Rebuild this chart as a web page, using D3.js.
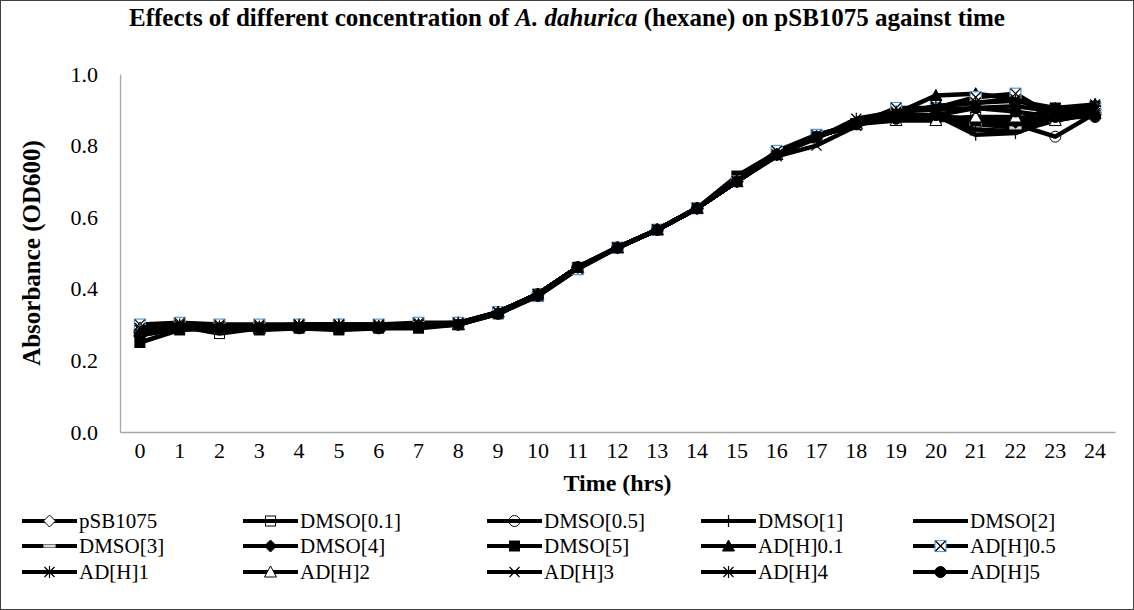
<!DOCTYPE html>
<html>
<head>
<meta charset="utf-8">
<script src="https://cdn.jsdelivr.net/npm/d3@7"></script>
<style>
  body { margin: 0; background: #fff; }
  text { font-family: "Liberation Serif", "Times New Roman", serif; fill: #000; }
</style>
</head>
<body>
<div id="chart"></div>
<script>
// chart data
const hours = d3.range(0, 25).map(String);
const seriesNames = [
  "pSB1075", "DMSO[0.1]", "DMSO[0.5]", "DMSO[1]", "DMSO[2]",
  "DMSO[3]", "DMSO[4]", "DMSO[5]", "AD[H]0.1", "AD[H]0.5",
  "AD[H]1", "AD[H]2", "AD[H]3", "AD[H]4", "AD[H]5"
];
const markerTypes = [
  "diamondOpen", "squareOpen", "circleOpen", "plus", "dash",
  "bar", "diamond", "square", "triangle", "squareX",
  "star6", "triangleOpen", "x", "star8", "circle"
];
const yTicks = [0, 0.2, 0.4, 0.6, 0.8, 1.0];

const pSB1075   = [0.28, 0.30, 0.29, 0.29, 0.295, 0.295, 0.295, 0.30, 0.30, 0.335, 0.385, 0.46, 0.515, 0.565, 0.625, 0.70, 0.775, 0.825, 0.86, 0.885, 0.88, 0.87, 0.86, 0.88, 0.89];
const dmso01    = [0.29, 0.295, 0.275, 0.29, 0.295, 0.29, 0.295, 0.30, 0.30, 0.335, 0.385, 0.46, 0.515, 0.565, 0.625, 0.70, 0.78, 0.83, 0.86, 0.89, 0.875, 0.88, 0.87, 0.875, 0.89];
const dmso05    = [0.28, 0.30, 0.29, 0.295, 0.295, 0.295, 0.295, 0.30, 0.305, 0.335, 0.385, 0.46, 0.515, 0.565, 0.625, 0.70, 0.775, 0.825, 0.86, 0.885, 0.88, 0.875, 0.86, 0.825, 0.89];
const dmso1     = [0.28, 0.295, 0.29, 0.29, 0.295, 0.295, 0.295, 0.30, 0.30, 0.335, 0.385, 0.46, 0.515, 0.565, 0.625, 0.70, 0.775, 0.825, 0.86, 0.885, 0.885, 0.83, 0.835, 0.875, 0.895];
const dmso2     = [0.28, 0.295, 0.29, 0.29, 0.295, 0.295, 0.295, 0.30, 0.30, 0.335, 0.385, 0.46, 0.515, 0.565, 0.625, 0.70, 0.775, 0.825, 0.86, 0.885, 0.88, 0.845, 0.84, 0.87, 0.89];
const dmso3     = [0.28, 0.295, 0.29, 0.29, 0.295, 0.295, 0.295, 0.30, 0.30, 0.335, 0.385, 0.46, 0.515, 0.565, 0.625, 0.70, 0.775, 0.825, 0.86, 0.885, 0.875, 0.86, 0.85, 0.875, 0.89];
const dmso4     = [0.27, 0.29, 0.29, 0.29, 0.29, 0.29, 0.29, 0.295, 0.30, 0.335, 0.385, 0.46, 0.515, 0.565, 0.625, 0.70, 0.775, 0.825, 0.86, 0.88, 0.885, 0.87, 0.865, 0.88, 0.885];
const dmso5     = [0.25, 0.285, 0.29, 0.285, 0.29, 0.285, 0.29, 0.29, 0.30, 0.33, 0.38, 0.455, 0.515, 0.565, 0.625, 0.715, 0.78, 0.825, 0.86, 0.88, 0.88, 0.87, 0.87, 0.905, 0.91];
const adh01     = [0.28, 0.295, 0.29, 0.29, 0.295, 0.295, 0.295, 0.30, 0.30, 0.335, 0.385, 0.46, 0.515, 0.565, 0.625, 0.70, 0.775, 0.825, 0.86, 0.89, 0.94, 0.945, 0.93, 0.89, 0.915];
const adh05     = [0.30, 0.305, 0.30, 0.30, 0.30, 0.30, 0.30, 0.305, 0.305, 0.335, 0.38, 0.455, 0.515, 0.565, 0.625, 0.70, 0.785, 0.83, 0.86, 0.905, 0.905, 0.935, 0.945, 0.88, 0.905];
const adh1      = [0.29, 0.30, 0.295, 0.295, 0.30, 0.30, 0.295, 0.30, 0.305, 0.335, 0.385, 0.46, 0.515, 0.565, 0.625, 0.70, 0.775, 0.825, 0.86, 0.89, 0.91, 0.92, 0.925, 0.905, 0.915];
const adh2      = [0.29, 0.295, 0.29, 0.29, 0.295, 0.295, 0.295, 0.30, 0.30, 0.335, 0.385, 0.46, 0.515, 0.565, 0.625, 0.70, 0.775, 0.825, 0.86, 0.87, 0.87, 0.88, 0.88, 0.87, 0.89];
const adh3      = [0.29, 0.30, 0.295, 0.295, 0.30, 0.30, 0.30, 0.30, 0.30, 0.335, 0.385, 0.46, 0.515, 0.565, 0.625, 0.70, 0.77, 0.80, 0.855, 0.89, 0.91, 0.92, 0.93, 0.89, 0.90];
const adh4      = [0.285, 0.295, 0.29, 0.29, 0.295, 0.295, 0.295, 0.30, 0.30, 0.335, 0.385, 0.46, 0.515, 0.565, 0.625, 0.70, 0.775, 0.82, 0.875, 0.895, 0.90, 0.905, 0.91, 0.895, 0.91];
const adh5      = [0.27, 0.29, 0.29, 0.29, 0.29, 0.29, 0.29, 0.295, 0.30, 0.33, 0.38, 0.46, 0.515, 0.565, 0.625, 0.70, 0.775, 0.825, 0.86, 0.875, 0.885, 0.905, 0.895, 0.88, 0.88];

const seriesValues = [pSB1075, dmso01, dmso05, dmso1, dmso2, dmso3, dmso4, dmso5,
  adh01, adh05, adh1, adh2, adh3, adh4, adh5];

const width = 1134,
  height = 610;
const plot = { left: 120, right: 1115, top: 74, bottom: 432 };

const svg = d3
  .select("#chart")
  .append("svg")
  .attr("width", width)
  .attr("height", height);

// chart frame
svg
  .append("rect")
  .attr("x", 0.5)
  .attr("y", 0.5)
  .attr("width", width - 1)
  .attr("height", height - 1)
  .style("fill", "white")
  .style("stroke", "#404040");

const x = d3
  .scaleBand()
  .domain(hours)
  .range([plot.left, plot.right]);

const y = d3
  .scaleLinear()
  .domain([0, 1])
  .range([plot.bottom, plot.top]);

// axes (no tick marks, grey axis lines)
const xAxis = svg
  .append("g")
  .attr("transform", `translate(0,${plot.bottom})`)
  .call(d3.axisBottom(x).tickSize(0).tickPadding(10));
xAxis.select(".domain").attr("stroke", "#a6a6a6").attr("stroke-width", 1.3);
xAxis.selectAll("text").style("font-size", "22px");

const yAxis = svg
  .append("g")
  .attr("transform", `translate(${plot.left},0)`)
  .call(
    d3.axisLeft(y).tickValues(yTicks).tickSize(0).tickPadding(22).tickFormat(d3.format(".1f"))
  );
yAxis.select(".domain").attr("stroke", "#a6a6a6").attr("stroke-width", 1.3);
yAxis.selectAll("text").style("font-size", "22px");

// titles
svg
  .append("text")
  .attr("x", width / 2)
  .attr("y", 26)
  .attr("text-anchor", "middle")
  .style("font-size", "25px")
  .style("font-weight", "bold")
  .call((t) => {
    t.append("tspan").text("Effects of different concentration of ");
    t.append("tspan").style("font-style", "italic").text("A. dahurica");
    t.append("tspan").text(" (hexane) on pSB1075 against time");
  });

svg
  .append("text")
  .attr("x", (plot.left + plot.right) / 2)
  .attr("y", 491)
  .attr("text-anchor", "middle")
  .style("font-size", "24px")
  .style("font-weight", "bold")
  .text("Time (hrs)");

svg
  .append("text")
  .attr("transform", `translate(40,${(plot.top + plot.bottom) / 2}) rotate(-90)`)
  .attr("text-anchor", "middle")
  .style("font-size", "25px")
  .style("font-weight", "bold")
  .text("Absorbance (OD600)");

// marker shapes
function drawMarker(g, type) {
  const s = 6;
  const line = (x1, y1, x2, y2) =>
    g.append("line").attr("x1", x1).attr("y1", y1).attr("x2", x2).attr("y2", y2)
      .style("stroke", "#000").style("stroke-width", 1.2);
  switch (type) {
    case "diamondOpen":
    case "diamond":
      g.append("path")
        .attr("d", `M0,${-s}L${s},0L0,${s}L${-s},0Z`)
        .style("fill", type === "diamond" ? "#000" : "#fff")
        .style("stroke", "#000");
      break;
    case "squareOpen":
    case "square":
      g.append("rect").attr("x", -5).attr("y", -5).attr("width", 10).attr("height", 10)
        .style("fill", type === "square" ? "#000" : "none")
        .style("stroke", "#000");
      break;
    case "circleOpen":
    case "circle":
      g.append("circle").attr("r", 5.5)
        .style("fill", type === "circle" ? "#000" : "none")
        .style("stroke", "#000");
      break;
    case "triangle":
    case "triangleOpen":
      g.append("path")
        .attr("d", `M0,${-s}L${s},${s - 1}L${-s},${s - 1}Z`)
        .style("fill", type === "triangle" ? "#000" : "#fff")
        .style("stroke", "#000");
      break;
    case "plus":
      line(0, -s, 0, s);
      line(-s, 0, s, 0);
      break;
    case "dash":
      g.append("rect").attr("x", -6).attr("y", -2).attr("width", 12).attr("height", 4)
        .style("fill", "#000");
      break;
    case "bar":
      g.append("rect").attr("x", -6).attr("y", -1.5).attr("width", 12).attr("height", 3)
        .style("fill", "#d9d9d9").style("stroke", "#808080").style("stroke-width", 0.6);
      break;
    case "squareX":
      g.append("rect").attr("x", -5.5).attr("y", -5.5).attr("width", 11).attr("height", 11)
        .style("fill", "#fff").style("stroke", "#5b9bd5").style("stroke-width", 1.2);
      line(-5, -5, 5, 5);
      line(-5, 5, 5, -5);
      break;
    case "x":
      line(-5, -5, 5, 5);
      line(-5, 5, 5, -5);
      break;
    case "star6":
      line(-5, -5, 5, 5);
      line(-5, 5, 5, -5);
      line(0, -s, 0, s);
      break;
    case "star8":
      line(-5, -5, 5, 5);
      line(-5, 5, 5, -5);
      line(0, -s, 0, s);
      line(-s, 0, s, 0);
      break;
  }
}

const lineGen = d3
  .line()
  .x((d, i) => x(hours[i]) + x.bandwidth() / 2)
  .y((d) => y(d));

const seriesGroup = svg.append("g").attr("class", "series");

seriesValues.forEach((values, k) => {
  const g = seriesGroup.append("g");
  g.append("path")
    .attr("d", lineGen(values))
    .style("fill", "none")
    .style("stroke", "#000")
    .style("stroke-width", 4.5)
    .style("stroke-linejoin", "round");
  g.selectAll("g.marker")
    .data(values)
    .join("g")
    .attr("class", "marker")
    .attr("transform", (d, i) => `translate(${x(hours[i]) + x.bandwidth() / 2},${y(d)})`)
    .each(function () {
      drawMarker(d3.select(this), markerTypes[k]);
    });
});

// legend: 5 columns x 3 rows
const legendCols = [22, 243, 487, 701, 913];
const legendRows = [521, 546, 572];
const symbolLength = 55;

const legend = svg.append("g").attr("class", "legend");
seriesNames.forEach((name, k) => {
  const lx = legendCols[k % 5],
    ly = legendRows[Math.floor(k / 5)];
  const item = legend.append("g").attr("transform", `translate(${lx},${ly})`);
  item.append("line")
    .attr("x1", 0).attr("x2", symbolLength)
    .style("stroke", "#000").style("stroke-width", 4);
  drawMarker(item.append("g").attr("transform", `translate(${symbolLength / 2},0)`), markerTypes[k]);
  item.append("text")
    .attr("x", symbolLength + 2)
    .attr("dy", "0.35em")
    .style("font-size", "21px")
    .text(name);
});
</script>
</body>
</html>
